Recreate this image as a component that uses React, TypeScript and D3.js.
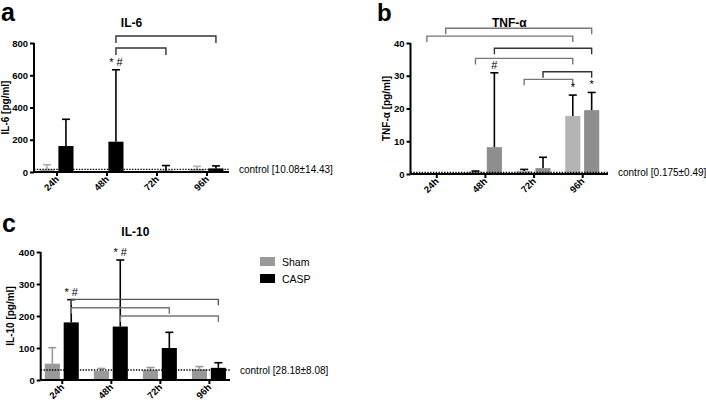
import React, { useRef, useEffect } from 'react';
import * as d3 from 'd3';

// time points and groups
const categories = ['24h', '48h', '72h', '96h'];
const groups = ['Sham', 'CASP'];

// IL-6 [pg/ml] mean and SD (upper)
const il6Sham = [17, 0, 0, 18];
const il6ShamSd = [28, 0, 0, 17];
const il6Casp = [161, 188, 8, 22];
const il6CaspSd = [166, 446, 32, 16];
const il6Ticks = [0, 200, 400, 600, 800];

// TNF-alpha [pg/ml]
const tnfSham = [0, 0.7, 0.9, 17.7];
const tnfShamSd = [0, 0.2, 0.5, 6.4];
const tnfCasp = [0, 8.2, 1.8, 19.5];
const tnfCaspSd = [0, 22.7, 3.3, 5.4];
const tnfTicks = [0, 10, 20, 30, 40];

// IL-10 [pg/ml]
const il10Sham = [51, 28, 31, 33];
const il10ShamSd = [50, 8, 8, 9];
const il10Casp = [180, 167, 100, 38];
const il10CaspSd = [71, 208, 49, 16];
const il10Ticks = [0, 100, 200, 300, 400];

// controls
const il6Control = 10.08;
const tnfControl = 0.175;
const il10Control = 28.18;

// significance brackets, level in data units
const il6Brackets = [
  { from: ['48h', 'CASP'], to: ['96h', 'CASP'], level: 843, tone: 'dark' },
  { from: ['48h', 'CASP'], to: ['72h', 'CASP'], level: 769, tone: 'dark' },
];
const tnfBrackets = [
  { from: ['24h', 'CASP'], to: ['96h', 'CASP'], level: 44.5, tone: 'light' },
  { from: ['24h', 'Sham'], to: ['96h', 'Sham'], level: 42.1, tone: 'light' },
  { from: ['48h', 'CASP'], to: ['96h', 'CASP'], level: 38.4, tone: 'dark' },
  { from: ['48h', 'Sham'], to: ['96h', 'Sham'], level: 35.3, tone: 'light' },
  { from: ['72h', 'CASP'], to: ['96h', 'CASP'], level: 31.2, tone: 'dark' },
  { from: ['72h', 'Sham'], to: ['96h', 'Sham'], level: 28.9, tone: 'light' },
];
const il10Brackets = [
  { from: ['24h', 'CASP'], to: ['96h', 'CASP'], level: 252, tone: 'mid' },
  { from: ['24h', 'CASP'], to: ['72h', 'CASP'], level: 226, tone: 'light' },
  { from: ['48h', 'CASP'], to: ['96h', 'CASP'], level: 200, tone: 'light' },
];

// marks over error bars
const il6Marks = [{ cat: '48h', group: 'CASP', text: '* #' }];
const tnfMarks = [
  { cat: '48h', group: 'CASP', text: '#' },
  { cat: '96h', group: 'Sham', text: '*' },
  { cat: '96h', group: 'CASP', text: '*' },
];
const il10Marks = [
  { cat: '24h', group: 'CASP', text: '* #' },
  { cat: '48h', group: 'CASP', text: '* #' },
];

const FONT = '"Liberation Sans", Arial, Helvetica, sans-serif';
const toneColor = { dark: '#333', mid: '#555', light: '#777' };

const panels = [
  {
    letter: 'a', letterPos: [1, 21], letterSize: 25,
    title: 'IL-6', yLabel: 'IL-6 [pg/ml]', yLabelX: 9,
    left: 34, right: 229, top: 43, bottom: 172, pad: 0.45,
    yMax: 800, ticks: il6Ticks,
    sham: il6Sham, shamSd: il6ShamSd, casp: il6Casp, caspSd: il6CaspSd,
    colors: ['#adadad', '#000'], errColors: ['#adadad', '#000'],
    control: il6Control, controlText: 'control [10.08±14.43]',
    brackets: il6Brackets, leg: 7, marks: il6Marks,
  },
  {
    letter: 'b', letterPos: [377, 21], letterSize: 24,
    title: 'TNF-α', yLabel: 'TNF-α [pg/ml]', yLabelX: 390,
    left: 410.5, right: 608, top: 43, bottom: 174, pad: 0.53,
    yMax: 40, ticks: tnfTicks,
    sham: tnfSham, shamSd: tnfShamSd, casp: tnfCasp, caspSd: tnfCaspSd,
    colors: ['#b4b4b4', '#8e8e8e'], errColors: ['#000', '#000'],
    control: tnfControl, controlText: 'control [0.175±0.49]',
    brackets: tnfBrackets, leg: 6, marks: tnfMarks,
  },
  {
    letter: 'c', letterPos: [2, 232], letterSize: 25,
    title: 'IL-10', yLabel: 'IL-10 [pg/ml]', yLabelX: 14,
    left: 40.7, right: 230, top: 252, bottom: 380, pad: 0.43,
    yMax: 400, ticks: il10Ticks,
    sham: il10Sham, shamSd: il10ShamSd, casp: il10Casp, caspSd: il10CaspSd,
    colors: ['#999', '#000'], errColors: ['#999', '#000'],
    control: il10Control, controlText: 'control [28.18±8.08]',
    brackets: il10Brackets, leg: 6, marks: il10Marks,
  },
];

function App() {
  const chartRef = useRef(null);

  useEffect(() => {
    const svg = d3.select(chartRef.current);
    svg.selectAll('*').remove();
    svg.style('font-family', FONT);

    panels.forEach(p => {
      const g = svg.append('g');
      const x = d3.scalePoint().domain(categories).range([p.left, p.right]).padding(p.pad);
      const inner = d3.scaleBand().domain(groups).range([-17, 17]).paddingInner(0.2);
      const y = d3.scaleLinear().domain([0, p.yMax]).range([p.bottom, p.top]);
      const barX = (cat, grp) => x(cat) + inner(grp) + inner.bandwidth() / 2;

      const rows = [];
      categories.forEach((c, i) => {
        rows.push({ cat: c, grp: 'Sham', v: p.sham[i], sd: p.shamSd[i], k: 0 });
        rows.push({ cat: c, grp: 'CASP', v: p.casp[i], sd: p.caspSd[i], k: 1 });
      });
      const shown = rows.filter(d => d.v > 0);

      // bars
      g.selectAll('.bar').data(shown).enter().append('rect')
        .attr('x', d => x(d.cat) + inner(d.grp))
        .attr('y', d => y(d.v))
        .attr('width', inner.bandwidth())
        .attr('height', d => y(0) - y(d.v))
        .attr('fill', d => p.colors[d.k]);

      // error bars (upper only)
      const eb = g.selectAll('.err').data(shown).enter().append('g')
        .attr('stroke', d => p.errColors[d.k]).attr('stroke-width', 1.6);
      eb.append('line')
        .attr('x1', d => barX(d.cat, d.grp)).attr('x2', d => barX(d.cat, d.grp))
        .attr('y1', d => y(d.v)).attr('y2', d => y(d.v + d.sd));
      eb.append('line')
        .attr('x1', d => barX(d.cat, d.grp) - 4).attr('x2', d => barX(d.cat, d.grp) + 4)
        .attr('y1', d => y(d.v + d.sd)).attr('y2', d => y(d.v + d.sd));

      // control line
      g.append('line')
        .attr('x1', p.left).attr('x2', p.right)
        .attr('y1', y(p.control) - 1).attr('y2', y(p.control) - 1)
        .attr('stroke', '#000').attr('stroke-width', 1.4).attr('stroke-dasharray', '1.4,1.4');
      g.append('text')
        .attr('x', p.right + 10).attr('y', y(p.control) + 3)
        .attr('font-size', 10).text(p.controlText);

      // y axis
      const ya = g.append('g').attr('transform', `translate(${p.left},0)`)
        .call(d3.axisLeft(y).tickValues(p.ticks).tickSize(4).tickPadding(2).tickFormat(d3.format('d')));
      ya.select('.domain').attr('stroke-width', 2).attr('d', `M0,${p.top}V${p.bottom}`);
      ya.selectAll('.tick line').attr('stroke-width', 2);
      ya.selectAll('.tick text').attr('font-size', 9.5).attr('font-weight', 'bold').attr('font-family', FONT);

      // x axis
      const xa = g.append('g').attr('transform', `translate(0,${p.bottom})`)
        .call(d3.axisBottom(x).tickSize(4).tickFormat(() => ''));
      xa.select('.domain').attr('stroke-width', 2).attr('d', `M${p.left},0H${p.right}`);
      xa.selectAll('.tick line').attr('stroke-width', 2);
      g.selectAll('.xlab').data(categories).enter().append('text')
        .attr('transform', d => `translate(${x(d) + 3},${p.bottom + 8}) rotate(-45)`)
        .attr('text-anchor', 'end').attr('font-size', 9.5).attr('font-weight', 'bold')
        .text(d => d);

      // brackets
      p.brackets.forEach(b => {
        const x1 = barX(b.from[0], b.from[1]);
        const x2 = barX(b.to[0], b.to[1]);
        const yy = y(b.level);
        g.append('path')
          .attr('d', `M${x1},${yy + p.leg}V${yy}H${x2}V${yy + p.leg}`)
          .attr('fill', 'none').attr('stroke', toneColor[b.tone]).attr('stroke-width', 1.4);
      });

      // marks
      p.marks.forEach(m => {
        const i = categories.indexOf(m.cat);
        const v = m.group === 'Sham' ? p.sham[i] + p.shamSd[i] : p.casp[i] + p.caspSd[i];
        g.append('text')
          .attr('x', barX(m.cat, m.group)).attr('y', y(v) - 4)
          .attr('text-anchor', 'middle').attr('font-size', 11).text(m.text);
      });

      // title, y label, letter
      g.append('text')
        .attr('x', (p.left + p.right) / 2).attr('y', p.top - 16)
        .attr('text-anchor', 'middle').attr('font-size', 12).attr('font-weight', 'bold')
        .text(p.title);
      g.append('text')
        .attr('transform', `translate(${p.yLabelX},${(p.top + p.bottom) / 2}) rotate(-90)`)
        .attr('text-anchor', 'middle').attr('font-size', 10).attr('font-weight', 'bold')
        .text(p.yLabel);
      g.append('text')
        .attr('x', p.letterPos[0]).attr('y', p.letterPos[1])
        .attr('font-size', p.letterSize).attr('font-weight', 'bold')
        .text(p.letter);
    });

    // legend (panel c)
    const lg = svg.append('g').attr('transform', 'translate(260,257)');
    const legColors = ['#999', '#000'];
    groups.forEach((name, i) => {
      lg.append('rect').attr('x', 0).attr('y', i * 17).attr('width', 15).attr('height', 9)
        .attr('fill', legColors[i]);
      lg.append('text').attr('x', 22).attr('y', i * 17 + 8.5)
        .attr('font-size', 10.5).text(name);
    });
  }, []);

  return (
    <svg ref={chartRef} width={706} height={402}
      style={{ position: 'absolute', left: 0, top: 0, background: '#fff' }} />
  );
}

export default App;
